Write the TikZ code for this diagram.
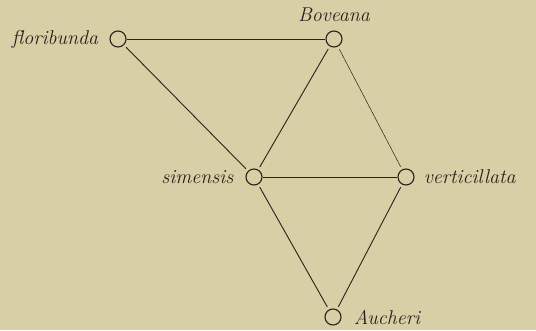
\documentclass[tikz,border=0pt]{standalone}
\usepackage{tikz}
\usetikzlibrary{positioning}
\definecolor{paper}{RGB}{216,207,166}
\definecolor{ink}{RGB}{38,34,28}
\tikzset{
  species/.style={draw=ink, circle, line width=1.1pt, minimum size=16pt, inner sep=0pt},
  taxon/.style={font=\fontsize{20}{22}\selectfont\itshape, text=ink, inner sep=0pt},
  link/.style={draw=ink, line width=0.9pt},
  slant/.style={link, shorten <=3pt, shorten >=3pt},
  faint/.style={slant, line width=0.5pt}
}

\begin{document}
\begin{tikzpicture}[x=1pt, y=-1pt]
    \fill[paper] (0,0) rectangle (536,330);

    \node[species] (flor) at (118,39) {};
    \node[species] (bov) at (334,39) {};
    \node[species] (sim) at (254,177) {};
    \node[species] (vert) at (406,177) {};
    \node[species] (auch) at (333,317) {};

    \node[taxon, left=11pt of flor] (florl) {floribunda};
    \node[taxon, above=9pt of bov] (bovl) {Boveana};
    \node[taxon, left=12pt of sim] (siml) {simensis};
    \node[taxon, right=9pt of vert] (vertl) {verticillata};
    \node[taxon, right=12pt of auch] (auchl) {Aucheri};

    \draw[link] (flor) -- (bov);
    \draw[link] (sim) -- (vert);
    \draw[slant] (flor) -- (sim);
    \draw[slant] (bov) -- (sim);
    \draw[faint] (bov) -- (vert);
    \draw[slant] (sim) -- (auch);
    \draw[slant] (vert) -- (auch);
\end{tikzpicture}
\end{document}
